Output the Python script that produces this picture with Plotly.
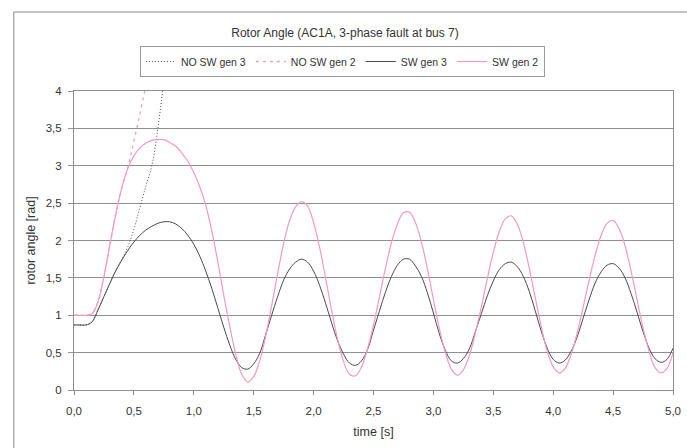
import plotly.graph_objects as go

# ---- data ----
time_s = [round(i * 0.05, 2) for i in range(101)]  # 0.00 .. 5.00 s sample times

sw_gen3 = [0.87, 0.87, 0.87, 0.91, 1.07, 1.25, 1.43, 1.60, 1.74, 1.87,
           1.98, 2.07, 2.14, 2.19, 2.23, 2.25, 2.25, 2.22, 2.16, 2.07,
           1.95, 1.79, 1.59, 1.36, 1.10, 0.84, 0.60, 0.41, 0.30, 0.28,
           0.35, 0.49, 0.74, 1.00, 1.25, 1.47, 1.62, 1.71, 1.75, 1.71,
           1.59, 1.40, 1.16, 0.90, 0.66, 0.48, 0.36, 0.33, 0.39, 0.54,
           0.80, 1.06, 1.31, 1.52, 1.67, 1.75, 1.75, 1.66, 1.52, 1.30,
           1.03, 0.75, 0.53, 0.39, 0.36, 0.42, 0.55, 0.78, 1.02, 1.26,
           1.46, 1.61, 1.69, 1.71, 1.65, 1.52, 1.32, 1.06, 0.79, 0.56,
           0.41, 0.36, 0.40, 0.52, 0.71, 0.96, 1.21, 1.43, 1.58, 1.67,
           1.69, 1.63, 1.50, 1.29, 1.04, 0.78, 0.56, 0.42, 0.37, 0.41,
           0.56]

sw_gen2 = [1.00, 1.00, 1.00, 1.02, 1.18, 1.52, 1.95, 2.36, 2.71, 2.97,
           3.13, 3.24, 3.30, 3.34, 3.35, 3.35, 3.31, 3.26, 3.17, 3.06,
           2.91, 2.72, 2.47, 2.13, 1.72, 1.27, 0.85, 0.48, 0.21, 0.11,
           0.18, 0.39, 0.72, 1.13, 1.56, 1.96, 2.27, 2.45, 2.52, 2.46,
           2.24, 1.91, 1.50, 1.07, 0.68, 0.38, 0.21, 0.19, 0.31, 0.55,
           0.87, 1.25, 1.63, 1.97, 2.22, 2.37, 2.38, 2.24, 1.98, 1.62,
           1.21, 0.82, 0.50, 0.28, 0.20, 0.27, 0.46, 0.76, 1.11, 1.49,
           1.84, 2.12, 2.29, 2.33, 2.22, 1.98, 1.63, 1.24, 0.85, 0.52,
           0.31, 0.23, 0.29, 0.48, 0.76, 1.11, 1.47, 1.80, 2.07, 2.23,
           2.27, 2.16, 1.93, 1.59, 1.21, 0.83, 0.52, 0.30, 0.23, 0.29,
           0.50]

t_nosw3 = [0.00, 0.05, 0.10, 0.15, 0.20, 0.25, 0.30, 0.35, 0.40, 0.45, 0.50, 0.55, 0.60, 0.65, 0.70, 0.74, 0.77]
v_nosw3 = [0.87, 0.87, 0.87, 0.91, 1.07, 1.25, 1.43, 1.60, 1.75, 1.92, 2.15, 2.44, 2.73, 3.00, 3.50, 4.00, 4.40]

t_nosw2 = [0.00, 0.05, 0.10, 0.15, 0.20, 0.25, 0.30, 0.35, 0.40, 0.45, 0.50, 0.55, 0.59, 0.62]
v_nosw2 = [1.00, 1.00, 1.00, 1.02, 1.18, 1.52, 1.95, 2.36, 2.71, 2.98, 3.33, 3.69, 4.00, 4.22]

x_ticks = [0.0, 0.5, 1.0, 1.5, 2.0, 2.5, 3.0, 3.5, 4.0, 4.5, 5.0]
y_ticks = [0, 0.5, 1, 1.5, 2, 2.5, 3, 3.5, 4]

title_text = "Rotor Angle (AC1A, 3-phase fault at bus 7)"
x_title = "time [s]"
y_title = "rotor angle [rad]"

PINK = "#F29AC4"
DARK = "#4a4a4a"
GRID = "#8f8f8f"
TXT = "#333333"
FONT = "Liberation Sans, Arial, sans-serif"

fig = go.Figure()
fig.add_trace(go.Scatter(x=t_nosw3, y=v_nosw3, mode="lines", name="NO SW gen 3",
                         line=dict(color=DARK, width=1, dash="1px,2px", shape="spline")))
fig.add_trace(go.Scatter(x=t_nosw2, y=v_nosw2, mode="lines", name="NO SW gen 2",
                         line=dict(color=PINK, width=1.3, dash="3px,4px", shape="spline")))
fig.add_trace(go.Scatter(x=time_s, y=sw_gen3, mode="lines", name="SW gen 3",
                         line=dict(color=DARK, width=1, shape="spline", smoothing=1)))
fig.add_trace(go.Scatter(x=time_s, y=sw_gen2, mode="lines", name="SW gen 2",
                         line=dict(color=PINK, width=1.2, shape="spline", smoothing=1)))

W, H = 687, 448
L, R, T, B = 74, 6, 91, 58
pw, ph = W - L - R, H - T - B

def px_x(p):
    return (p - L) / pw

def px_y(p):
    return (H - B - p) / ph

fig.update_layout(
    width=W, height=H,
    margin=dict(l=L, r=R, t=T, b=B),
    paper_bgcolor="white", plot_bgcolor="white",
    separators=",.",
    font=dict(family=FONT, size=11.5, color=TXT),
    title=dict(text=title_text, x=345 / W, xref="container", xanchor="center",
               y=1 - 33 / H, yref="container", yanchor="middle",
               font=dict(family=FONT, size=12, color=TXT)),
    showlegend=True,
    legend=dict(orientation="h", x=px_x(346), xanchor="center", y=px_y(46), yanchor="top",
                bordercolor="#9a9a9a", borderwidth=1, bgcolor="white",
                font=dict(family=FONT, size=10.5, color=TXT),
                itemwidth=30, tracegroupgap=0),
    xaxis=dict(range=[0, 5], tickvals=x_ticks, tickformat=".1f",
               showgrid=False, zeroline=False, showline=True, linecolor=GRID, linewidth=1,
               mirror=True, ticks="outside", ticklen=4, tickcolor=GRID,
               ticklabelstandoff=6, ticklabeloverflow="allow",
               title=dict(text=x_title, standoff=11, font=dict(size=12.5))),
    yaxis=dict(range=[0, 4], tickvals=y_ticks,
               showgrid=True, gridcolor=GRID, gridwidth=1, zeroline=False,
               showline=True, linecolor=GRID, linewidth=1, mirror=True,
               ticks="outside", ticklen=5, tickcolor=GRID, ticklabelstandoff=4,
               title=dict(text=y_title, standoff=7, font=dict(size=12.5))),
    shapes=[dict(type="rect", xref="paper", yref="paper",
                 x0=px_x(13), x1=px_x(700), y0=px_y(460), y1=px_y(12),
                 line=dict(color="#8a8a8a", width=1), fillcolor="rgba(0,0,0,0)", layer="below")],
)

fig.write_html("out.html", config={"displayModeBar": False},
               post_script="document.body.style.margin='0';")
